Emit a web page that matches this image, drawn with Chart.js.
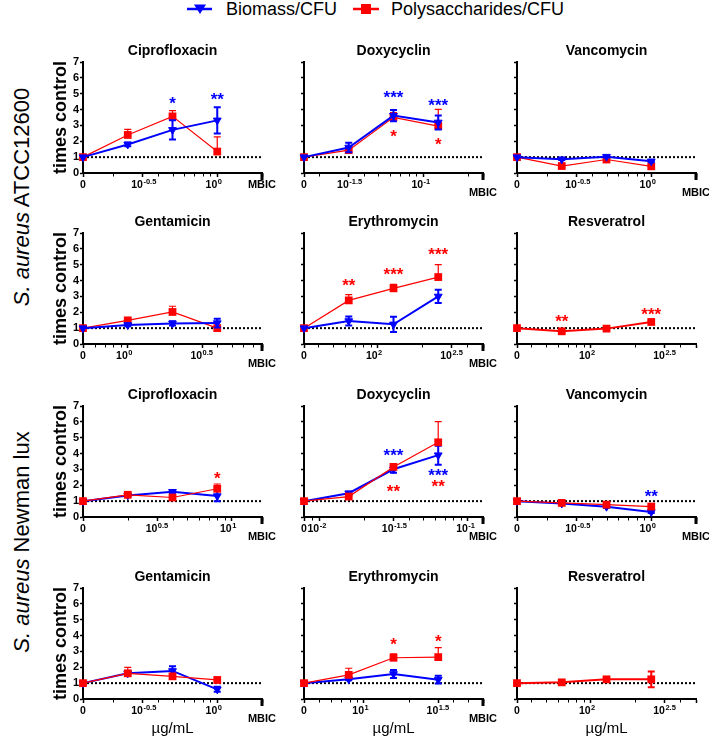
<!DOCTYPE html>
<html><head><meta charset="utf-8"><title>S. aureus biofilm</title>
<script src="https://cdn.jsdelivr.net/npm/chart.js@4.4.1/dist/chart.umd.min.js"></script>
<style>
html,body{margin:0;padding:0;background:#fff;}
body{width:709px;height:736px;position:relative;overflow:hidden;font-family:"Liberation Sans",Arial,sans-serif;color:#000;}
canvas{position:absolute;}
.side{position:absolute;white-space:nowrap;font-size:22px;line-height:1;transform:translate(-50%,-50%) rotate(-90deg);}
.lg{position:absolute;top:0;font-size:18px;line-height:18px;white-space:nowrap;}
</style></head><body>
<div id="legend"></div>
<script>
// ---------------- DATA ----------------
const seriesNames = ["Biomass/CFU", "Polysaccharides/CFU"];
const speciesName = "S. aureus";
const strainNames = ["ATCC12600", "Newman lux"];
const yTitle = "times control";
const xUnit = "µg/mL";
const zeroLabel = "0";
const endLabel = "MBIC";
const yTickValues = [0, 1, 2, 3, 4, 5, 6, 7];
const panelTitles = ["Ciprofloxacin", "Doxycyclin", "Vancomycin",
                     "Gentamicin", "Erythromycin", "Resveratrol",
                     "Ciprofloxacin", "Doxycyclin", "Vancomycin",
                     "Gentamicin", "Erythromycin", "Resveratrol"];
// concentrations (µg/mL) of the 4 points of each panel
const concentrations = [
  [0, 0.25, 0.5, 1], [0, 0.0316, 0.0632, 0.1265], [0, 0.25, 0.5, 1],
  [0, 1, 2, 4], [0, 64, 128, 256], [0, 64, 128, 256],
  [0, 2, 4, 8], [0, 0.0158, 0.0316, 0.0632], [0, 0.25, 0.5, 1],
  [0, 0.25, 0.5, 1], [0, 7.9, 15.8, 31.6], [0, 64, 128, 256]
];
const axisEnd = [2, 0.253, 2, 8, 512, 512, 16, 0.1265, 2, 2, 63.2, 512];
const showMBIC = [true, true, true, true, true, false, true, true, true, true, true, false];
// exponents of the labelled 10^x ticks
const tickExponents = [
  ["-0.5", "0"], ["-1.5", "-1"], ["-0.5", "0"],
  ["0", "0.5"], ["2", "2.5"], ["2", "2.5"],
  ["0.5", "1"], ["-2", "-1.5", "-1"], ["-0.5", "0"],
  ["-0.5", "0"], ["1", "1.5"], ["2", "2.5"]
];
const biomass = [
  [1, 1.80, 2.72, 3.32], [1, 1.61, 3.62, 3.19], [1, 0.87, 1.03, 0.74],
  [1, 1.20, 1.30, 1.32], [1, 1.45, 1.24, 3.00], null,
  [1, 1.36, 1.59, 1.32], [1, 1.50, 3.01, 3.90], [1, 0.85, 0.65, 0.32],
  [1, 1.62, 1.77, 0.61], [1, 1.24, 1.58, 1.22], null
];
const biomassSD = [
  [0, 0.12, 0.60, 0.83], [0, 0.30, 0.35, 0.44], [0, 0.05, 0.05, 0.06],
  [0, 0.08, 0.13, 0.28], [0, 0.29, 0.48, 0.42], null,
  [0, 0.05, 0.12, 0.33], [0, 0.09, 0.22, 0.60], [0, 0.04, 0.06, 0.06],
  [0, 0.07, 0.30, 0.16], [0, 0.06, 0.25, 0.25], null
];
const polysaccharides = [
  [1, 2.40, 3.57, 1.35], [1, 1.44, 3.51, 2.96], [1, 0.44, 0.85, 0.42],
  [1, 1.49, 2.02, 1.00], [1, 2.75, 3.51, 4.22], [1, 0.80, 0.97, 1.39],
  [1, 1.40, 1.23, 1.78], [1, 1.29, 3.16, 4.71], [1, 0.89, 0.78, 0.66],
  [1, 1.62, 1.43, 1.20], [1, 1.52, 2.60, 2.64], [1, 1.05, 1.24, 1.24]
];
const polysaccharidesSD = [
  [0, 0.35, 0.36, 0.93], [0, 0.15, 0.30, 1.05], [0, 0.04, 0.04, 0.05],
  [0, 0.13, 0.36, 0.05], [0, 0.37, 0.25, 0.78], [0.03, 0.04, 0.04, 0.05],
  [0, 0.08, 0.06, 0.30], [0, 0.05, 0.12, 1.30], [0, 0.04, 0.05, 0.05],
  [0, 0.38, 0.08, 0.05], [0, 0.42, 0.25, 0.60], [0.03, 0.08, 0.10, 0.50]
];
// significance marks: panel, series (b/r), point, text, height (times control)
const starPanel  = [0, 0, 1, 1, 1, 1, 4, 4, 4, 5, 5, 6, 7, 7, 7, 7, 8, 10, 10];
const starSeries = ["b","b","b","b","r","r","r","r","r","r","r","r","b","r","b","r","b","r","r"];
const starPoint  = [2, 3, 2, 3, 2, 3, 1, 2, 3, 1, 3, 3, 2, 2, 3, 3, 3, 2, 3];
const starText   = ["*","**","***","***","*","*","**","***","***","**","***","*","***","**","***","**","**","*","*"];
const starY      = [4.61, 4.86, 5.03, 4.52, 2.54, 2.07, 3.93, 4.65, 5.9, 1.7, 2.1, 2.69, 4.14, 1.85, 2.84, 2.16, 1.57, 3.69, 3.88];

// ---------------- STYLE / LAYOUT ----------------
const BLUE = "#0000ff", RED = "#ff0000";
const FF = "'Liberation Sans', Arial, sans-serif";
const AX = [83, 304, 517];      // y-axis x of each column
const PT = [62, 233, 406, 588]; // plot top of each row
const PH = 111, PW = 179, PADL = 43, PADR = 30, TOPM = 30, BOTM = 45;

Chart.defaults.font.family = FF;
Chart.defaults.color = "#000";

function axisMin(conc) { return Math.log10(conc[1]) - Math.log10(conc[2] / conc[1]); }
function xPos(c, conc) { return c === 0 ? axisMin(conc) : Math.log10(c); }

const decoPlugin = {
  id: "deco",
  beforeDatasetDraw(chart, args) {
    const ds = chart.data.datasets[args.index];
    if (!ds.errs) return;
    const xs = chart.scales.x, ys = chart.scales.y, ctx = chart.ctx;
    ctx.save();
    ctx.strokeStyle = ds.borderColor; ctx.lineWidth = ds.errLW;
    ds.data.forEach((pt, i) => {
      const e = ds.errs[i]; if (!e) return;
      const px = xs.getPixelForValue(pt.x);
      const t = ys.getPixelForValue(pt.y + e);
      const b = ys.getPixelForValue(ds.errBoth ? pt.y - e : pt.y);
      ctx.beginPath();
      ctx.moveTo(px, t); ctx.lineTo(px, b);
      ctx.moveTo(px - 3.5, t); ctx.lineTo(px + 3.5, t);
      if (ds.errBoth) { ctx.moveTo(px - 3.5, b); ctx.lineTo(px + 3.5, b); }
      ctx.stroke();
    });
    ctx.restore();
  },
  afterDraw(chart) {
    const p = chart.options.plugins.deco.idx;
    const xs = chart.scales.x, ys = chart.scales.y, ctx = chart.ctx;
    const y0 = ys.getPixelForValue(0);
    const conc = concentrations[p];
    const xmin = xs.min, xmax = xs.max;
    const majors = tickExponents[p].map(Number);
    ctx.save();
    ctx.strokeStyle = "#000"; ctx.lineWidth = 1;
    for (let n = Math.floor(xmin) - 1; n <= Math.ceil(xmax); n++) {
      for (let k = 2; k <= 9; k++) {
        const v = n + Math.log10(k);
        if (v <= xmin + 0.03 || v >= xmax - 0.03) continue;
        if (majors.some(m => Math.abs(m - v) < 0.03)) continue;
        const px = Math.round(xs.getPixelForValue(v)) + 0.5;
        ctx.beginPath(); ctx.moveTo(px, y0 + 1); ctx.lineTo(px, y0 + 3.5); ctx.stroke();
      }
    }
    ctx.fillStyle = "#000";
    ctx.textBaseline = "middle";
    ctx.font = "bold 10.5px " + FF; ctx.textAlign = "center";
    ctx.fillText(zeroLabel, xs.getPixelForValue(xmin), y0 + 12);
    tickExponents[p].forEach(e => {
      const px = xs.getPixelForValue(Number(e));
      ctx.font = "bold 10.5px " + FF; ctx.textAlign = "right";
      ctx.fillText("10", px, y0 + 12);
      ctx.font = "bold 7.5px " + FF; ctx.textAlign = "left";
      ctx.fillText(e, px + 0.5, y0 + 8.5);
    });
    if (showMBIC[p]) {
      const px = xs.getPixelForValue(xmax);
      ctx.fillRect(px - 1.5, y0, 3, 7);
      ctx.font = "bold 11px " + FF; ctx.textAlign = "center";
      ctx.fillText(endLabel, px, y0 + (p === 0 ? 12 : 20));
    }
    ctx.textBaseline = "alphabetic";
    ctx.font = "bold 17px " + FF; ctx.textAlign = "center";
    starPanel.forEach((sp, i) => {
      if (sp !== p) return;
      const px = xs.getPixelForValue(xPos(conc[starPoint[i]], conc));
      ctx.fillStyle = starSeries[i] === "b" ? BLUE : RED;
      ctx.fillText(starText[i], px, ys.getPixelForValue(starY[i]) + 9.5);
    });
    ctx.restore();
  }
};

for (let p = 0; p < 12; p++) {
  const r = Math.floor(p / 3), c = p % 3;
  const cv = document.createElement("canvas");
  cv.width = PADL + PW + PADR; cv.height = TOPM + PH + BOTM;
  cv.style.left = (AX[c] - PADL) + "px"; cv.style.top = (PT[r] - TOPM) + "px";
  document.body.appendChild(cv);
  const conc = concentrations[p];
  const xmin = axisMin(conc), xmax = Math.log10(axisEnd[p]);
  const datasets = [{
    label: "control", data: [{x: xmin, y: 1}, {x: xmax, y: 1}],
    borderColor: "#000", borderWidth: 2, borderDash: [2, 2], pointRadius: 0, order: 10, clip: false
  }];
  const isResv = !biomass[p];
  if (biomass[p]) datasets.push({
    label: seriesNames[0], data: conc.map((cc, i) => ({x: xPos(cc, conc), y: biomass[p][i]})),
    borderColor: BLUE, backgroundColor: BLUE, borderWidth: 2,
    pointStyle: "triangle", pointRotation: 180, pointRadius: 4.5, pointBorderWidth: 1,
    pointBackgroundColor: BLUE, pointBorderColor: BLUE,
    order: r < 2 ? 1 : 2, clip: false, errs: biomassSD[p], errBoth: true, errLW: 2
  });
  datasets.push({
    label: seriesNames[1], data: conc.map((cc, i) => ({x: xPos(cc, conc), y: polysaccharides[p][i]})),
    borderColor: RED, backgroundColor: RED, borderWidth: isResv ? 2 : 1.2,
    pointStyle: "rect", pointRadius: 5.5, pointBorderWidth: 0,
    pointBackgroundColor: RED, pointBorderColor: RED,
    order: r < 2 ? 2 : 1, clip: false, errs: polysaccharidesSD[p], errBoth: isResv, errLW: isResv ? 2 : 1.2
  });
  const majorVals = [xmin].concat(tickExponents[p].map(Number), [xmax]);
  new Chart(cv, {
    type: "line",
    data: { datasets },
    plugins: [decoPlugin],
    options: {
      responsive: false, animation: false, events: [],
      layout: { padding: { top: 10.6, right: PADR, left: 0, bottom: 0 } },
      plugins: {
        legend: { display: false }, tooltip: { enabled: false },
        title: { display: true, text: panelTitles[p], fullSize: false, color: "#000",
                 font: { size: 14, weight: "bold", family: FF }, padding: { top: 0, bottom: 2.6 } },
        deco: { idx: p }
      },
      scales: {
        x: {
          type: "linear", min: xmin, max: xmax,
          afterBuildTicks(s) { s.ticks = majorVals.map(v => ({value: v})); },
          afterFit(s) { s.height = BOTM; },
          ticks: { display: false, autoSkip: false },
          grid: { display: true, drawOnChartArea: false, drawTicks: true, tickLength: 4, tickColor: "#000", tickWidth: 1.5 },
          border: { display: true, color: "#000", width: 2 },
          title: { display: r === 3, text: xUnit, color: "#000", font: { size: 15, family: FF }, padding: { top: 0, bottom: 6 } }
        },
        y: {
          type: "linear", min: 0, max: 7,
          afterBuildTicks(s) { s.ticks = yTickValues.map(v => ({value: v})); },
          afterFit(s) { s.width = PADL; },
          ticks: { display: c === 0, autoSkip: false, font: { size: 11, weight: "bold", family: FF }, color: "#000", padding: 1 },
          grid: { display: true, drawOnChartArea: false, drawTicks: true, tickLength: 3, tickColor: "#000", tickWidth: 1.5 },
          border: { display: true, color: "#000", width: 2 },
          title: { display: c === 0, text: yTitle, color: "#000", font: { size: 18, weight: "bold", family: FF }, padding: { top: 10, bottom: 0 } }
        }
      }
    }
  });
}

// legend
document.getElementById("legend").innerHTML =
  '<svg style="position:absolute;left:0;top:0" width="709" height="24">' +
  '<line x1="187" y1="9" x2="212" y2="9" stroke="' + BLUE + '" stroke-width="2.5"/>' +
  '<polygon points="194,4.5 206,4.5 200,14" fill="' + BLUE + '"/>' +
  '<line x1="353" y1="9" x2="379" y2="9" stroke="' + RED + '" stroke-width="2.5"/>' +
  '<rect x="361" y="4" width="10" height="10" fill="' + RED + '"/></svg>' +
  '<span class="lg" style="left:226px">' + seriesNames[0] + '</span>' +
  '<span class="lg" style="left:391px">' + seriesNames[1] + '</span>';

// row group labels
[197, 542].forEach((cy, i) => {
  const d = document.createElement("div");
  d.className = "side";
  d.style.left = "22px"; d.style.top = cy + "px";
  d.innerHTML = "<i>" + speciesName + "</i> " + strainNames[i];
  document.body.appendChild(d);
});
</script></body></html>
